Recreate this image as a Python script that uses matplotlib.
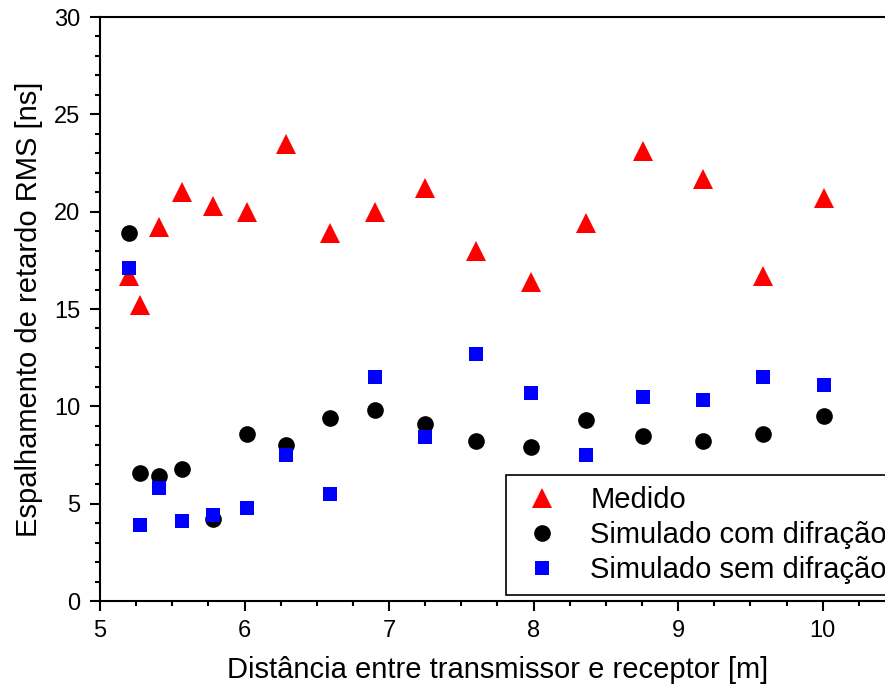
import numpy as np
import matplotlib
matplotlib.use('Agg')
import matplotlib.pyplot as plt
from matplotlib.ticker import MultipleLocator

plt.rcParams['font.family'] = ['Liberation Sans', 'DejaVu Sans']

# distance between transmitter and receiver [m]
distancia = [5.20, 5.28, 5.41, 5.57, 5.78, 6.02, 6.29, 6.59, 6.90,
             7.25, 7.60, 7.98, 8.36, 8.76, 9.17, 9.59, 10.01]

# RMS delay spread [ns]
medido = [16.7, 15.2, 19.2, 21.0, 20.3, 20.0, 23.5, 18.9, 20.0,
          21.2, 18.0, 16.4, 19.4, 23.1, 21.7, 16.7, 20.7]
sim_com_difracao = [18.9, 6.6, 6.4, 6.8, 4.2, 8.6, 8.0, 9.4, 9.8,
                    9.1, 8.2, 7.9, 9.3, 8.5, 8.2, 8.6, 9.5]
sim_sem_difracao = [17.1, 3.9, 5.8, 4.1, 4.4, 4.8, 7.5, 5.5, 11.5,
                    8.4, 12.7, 10.7, 7.5, 10.5, 10.3, 11.5, 11.1]

fig = plt.figure(figsize=(8.85, 6.93), dpi=100)
# axes run past the right edge of the figure, as in the original crop
ax = fig.add_axes([100 / 885, 92 / 693, 795 / 885, 584 / 693])

ax.plot(distancia, medido, '^', color='#ff0000', markersize=15,
        markeredgewidth=0, label='Medido')
ax.plot(distancia, sim_com_difracao, 'o', color='black', markersize=12,
        markeredgewidth=0, label='Simulado com difração')
ax.plot(distancia, sim_sem_difracao, 's', color='#0000ff', markersize=9.5,
        markeredgewidth=0, label='Simulado sem difração')

ax.set_xlim(5, 10.5)
ax.set_ylim(0, 30)
ax.xaxis.set_major_locator(MultipleLocator(1))
ax.xaxis.set_minor_locator(MultipleLocator(0.25))
ax.yaxis.set_major_locator(MultipleLocator(5))
ax.yaxis.set_minor_locator(MultipleLocator(1))

for s in ax.spines.values():
    s.set_linewidth(1.5)
ax.tick_params(which='major', length=7, width=1.5, labelsize=17, pad=7)
ax.tick_params(which='minor', length=3.5, width=1.5)

ax.set_xlabel('Distância entre transmissor e receptor [m]', fontsize=21, labelpad=10)
ax.set_ylabel('Espalhamento de retardo RMS [ns]', fontsize=21, labelpad=8)

leg = ax.legend(loc='lower left', bbox_to_anchor=(0.511, 0.0103), fontsize=21,
                frameon=True, fancybox=False, framealpha=1, edgecolor='black',
                labelspacing=0.24, handletextpad=0.8, borderpad=0.38,
                borderaxespad=0, handlelength=1.7)
leg.get_frame().set_linewidth(1.2)

fig.savefig('out.png', dpi=100)
